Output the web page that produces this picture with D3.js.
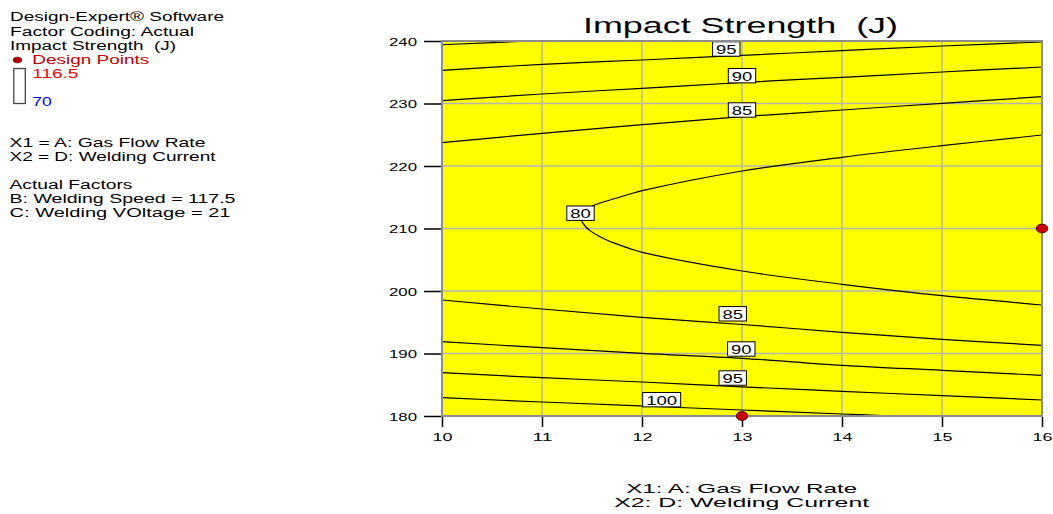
<!DOCTYPE html>
<html>
<head>
<meta charset="utf-8">
<script src="https://cdn.jsdelivr.net/npm/d3@7"></script>
<style>
  html, body { margin: 0; padding: 0; background: #fff; }
  svg { display: block; }
  text { font-family: 'Liberation Sans', Arial, sans-serif; white-space: pre; }
</style>
</head>
<body>
<svg id="chart" width="1053" height="514"></svg>
<script>
// ---------- data ----------
const xTicks = [10, 11, 12, 13, 14, 15, 16];
const yTicks = [180, 190, 200, 210, 220, 230, 240];

const c100Top = [[10, 239.4], [10.897, 240]];
const c95Top = [[10, 235.31], [11, 236.27], [12, 236.96], [13, 237.71], [14, 238.45], [15, 239.2], [16, 239.84]];
const c90Top = [[10, 230.45], [11, 231.52], [12, 232.43], [13, 233.36], [14, 234.19], [15, 235.04], [16, 235.84]];
const c85Top = [[10, 223.73], [11, 225.23], [12, 226.61], [13, 227.89], [14, 228.96], [15, 230.03], [16, 231.09]];
const c80 = [[16, 224.96], [15, 223.25], [14, 221.39], [13, 219.2], [12.003, 216.05], [11.88, 215.52],
             [11.73, 214.8], [11.58, 214.08], [11.48, 213.41], [11.43, 212.88], [11.39, 211.84],
             [11.40, 211.12], [11.43, 210.4], [11.48, 209.66], [11.58, 208.69], [11.73, 207.62],
             [11.88, 206.78], [12.003, 206.19], [13, 203.2], [14, 201.07], [15, 199.25], [16, 197.76]];
const c85Bot = [[10, 198.56], [11, 197.12], [12, 195.79], [13, 194.64], [14, 193.39], [15, 192.27], [16, 191.31]];
const c90Bot = [[10, 191.89], [11, 190.93], [12, 190.03], [13, 189.23], [14, 188.11], [15, 187.31], [16, 186.51]];
const c95Bot = [[10, 186.93], [11, 186.13], [12, 185.44], [13, 184.66], [14, 183.95], [15, 183.25], [16, 182.56]];
const c100Bot = [[10, 182.93], [11, 182.24], [12, 181.6], [13, 180.96], [14, 180.32], [14.513, 180]];

const contours = [c100Top, c95Top, c90Top, c85Top, c80, c85Bot, c90Bot, c95Bot, c100Bot];

const labelValues = [95, 90, 85, 80, 85, 90, 95, 100];
const labelX = [12.843, 13.0, 13.0, 11.385, 12.907, 12.993, 12.907, 12.197];
const labelY = [238.72, 234.45, 228.96, 212.45, 196.35, 190.72, 186.08, 182.61];

const designX = [13, 16];
const designY = [180, 210];

const legendLines = [
  "Design-Expert® Software",
  "Factor Coding: Actual",
  "Impact Strength  (J)"
];
const factorLines = [
  "X1 = A: Gas Flow Rate",
  "X2 = D: Welding Current",
  "",
  "Actual Factors",
  "B: Welding Speed = 117.5",
  "C: Welding VOltage = 21"
];
const rangeHigh = "116.5";
const rangeLow = "70";

// ---------- drawing ----------
const svg = d3.select("#chart");
const x = d3.scaleLinear().domain([10, 16]).range([442, 1042]);
const y = d3.scaleLinear().domain([180, 240]).range([416, 41]);

const FONT = "'Liberation Sans', Arial, sans-serif";

// background
svg.append("rect").attr("x", x(10)).attr("y", y(240))
  .attr("width", x(16) - x(10)).attr("height", y(180) - y(240))
  .attr("fill", "#ffff00");

// grid
const grid = svg.append("g").attr("stroke", "#b4b4b4").attr("stroke-width", 1.5);
grid.selectAll("line.gx").data(xTicks.slice(1, -1)).join("line")
  .attr("x1", d => x(d)).attr("x2", d => x(d)).attr("y1", y(240)).attr("y2", y(180));
grid.selectAll("line.gy").data(yTicks.slice(1, -1)).join("line")
  .attr("y1", d => y(d)).attr("y2", d => y(d)).attr("x1", x(10)).attr("x2", x(16));

// contours
svg.append("clipPath").attr("id", "clip").append("rect")
  .attr("x", x(10)).attr("y", y(240)).attr("width", x(16) - x(10)).attr("height", y(180) - y(240));
const line = d3.line().x(d => x(d[0])).y(d => y(d[1])).curve(d3.curveCatmullRom.alpha(0.5));
svg.append("g").attr("clip-path", "url(#clip)")
  .selectAll("path").data(contours).join("path")
  .attr("d", line).attr("fill", "none").attr("stroke", "#000").attr("stroke-width", 1.2);

// contour labels
const lab = svg.append("g").selectAll("g").data(labelValues).join("g")
  .attr("transform", (d, i) => `translate(${x(labelX[i])},${y(labelY[i])})`);
lab.append("rect")
  .attr("x", d => String(d).length > 2 ? -19 : -13.7)
  .attr("width", d => String(d).length > 2 ? 38 : 27.4)
  .attr("y", -7.2).attr("height", 14.4)
  .attr("fill", "#fff").attr("stroke", "#000").attr("stroke-width", 1);
lab.append("text").text(d => d)
  .attr("text-anchor", "middle").attr("y", 4.8)
  .attr("font-size", 13).attr("font-family", FONT)
  .attr("textLength", d => String(d).length > 2 ? 31 : 20.5)
  .attr("lengthAdjust", "spacingAndGlyphs");

// border
svg.append("rect").attr("x", x(10)).attr("y", y(240))
  .attr("width", x(16) - x(10)).attr("height", y(180) - y(240))
  .attr("fill", "none").attr("stroke", "#8c8c8c").attr("stroke-width", 2);

// axes
const yAxis = svg.append("g").attr("transform", `translate(${x(10) - 1},0)`)
  .call(d3.axisLeft(y).tickValues(yTicks).tickSize(17).tickPadding(7).tickFormat(d3.format("d")));
yAxis.select(".domain").remove();
yAxis.selectAll(".tick line").attr("stroke", "#000").attr("stroke-width", 1.5);
yAxis.selectAll(".tick text").attr("font-size", 10).attr("font-family", FONT).attr("fill", "#000")
  .attr("dy", "0.4em").attr("textLength", 28).attr("lengthAdjust", "spacingAndGlyphs");

const xAxis = svg.append("g").attr("transform", `translate(0,${y(180) + 1})`)
  .call(d3.axisBottom(x).tickValues(xTicks).tickSize(10).tickFormat(d3.format("d")));
xAxis.select(".domain").remove();
xAxis.selectAll(".tick line").attr("stroke", "#000").attr("stroke-width", 1.5);
xAxis.selectAll(".tick text").attr("font-size", 10).attr("font-family", FONT).attr("fill", "#000")
  .attr("y", 23.7).attr("dy", 0).attr("textLength", 20).attr("lengthAdjust", "spacingAndGlyphs");

// design points
svg.append("g").selectAll("ellipse").data(designX).join("ellipse")
  .attr("cx", d => x(d)).attr("cy", (d, i) => y(designY[i]))
  .attr("rx", 5.8).attr("ry", 4.4)
  .attr("fill", "#c80000").attr("stroke", "#5a0000").attr("stroke-width", 1);

// title
svg.append("text").text("Impact Strength  (J)")
  .attr("x", 740.5).attr("y", 33.3).attr("text-anchor", "middle")
  .attr("font-size", 22).attr("font-family", FONT)
  .attr("textLength", 315).attr("lengthAdjust", "spacingAndGlyphs");

// axis titles
svg.append("text").text("X1: A: Gas Flow Rate")
  .attr("x", 741.7).attr("y", 492.6).attr("text-anchor", "middle")
  .attr("font-size", 13).attr("font-family", FONT)
  .attr("textLength", 231).attr("lengthAdjust", "spacingAndGlyphs");
svg.append("text").text("X2: D: Welding Current")
  .attr("x", 741.7).attr("y", 507.4).attr("text-anchor", "middle")
  .attr("font-size", 13).attr("font-family", FONT)
  .attr("textLength", 255).attr("lengthAdjust", "spacingAndGlyphs");

// legend block
const legendW = [214, 184, 166];
svg.append("g").selectAll("text").data(legendLines).join("text")
  .text(d => d).attr("x", 10).attr("y", (d, i) => 21.3 + i * 14.3)
  .attr("font-size", 12).attr("font-family", FONT)
  .attr("textLength", (d, i) => legendW[i]).attr("lengthAdjust", "spacingAndGlyphs");

svg.append("ellipse").attr("cx", 17.5).attr("cy", 60).attr("rx", 4.2).attr("ry", 2.8)
  .attr("fill", "#b00000").attr("stroke", "#600000").attr("stroke-width", 0.8);
svg.append("text").text("Design Points").attr("x", 32.3).attr("y", 64)
  .attr("font-size", 12).attr("font-family", FONT).attr("fill", "#c00000")
  .attr("textLength", 117).attr("lengthAdjust", "spacingAndGlyphs");

svg.append("rect").attr("x", 13.8).attr("y", 68.5).attr("width", 11.5).attr("height", 35)
  .attr("fill", "#fff").attr("stroke", "#444").attr("stroke-width", 1.3);
svg.append("text").text(rangeHigh).attr("x", 32.3).attr("y", 77.7)
  .attr("font-size", 12).attr("font-family", FONT).attr("fill", "#ff0000")
  .attr("textLength", 46).attr("lengthAdjust", "spacingAndGlyphs");
svg.append("text").text(rangeLow).attr("x", 32.3).attr("y", 106)
  .attr("font-size", 12).attr("font-family", FONT).attr("fill", "#0000ff")
  .attr("textLength", 19.4).attr("lengthAdjust", "spacingAndGlyphs");

const factorW = [196, 206, 0, 123, 226, 221];
svg.append("g").selectAll("text").data(factorLines).join("text")
  .text(d => d).attr("x", 9.5).attr("y", (d, i) => 147.3 + i * 13.95)
  .attr("font-size", 12).attr("font-family", FONT)
  .each(function (d, i) {
    if (factorW[i] > 0) d3.select(this).attr("textLength", factorW[i]).attr("lengthAdjust", "spacingAndGlyphs");
  });
</script>
</body>
</html>
